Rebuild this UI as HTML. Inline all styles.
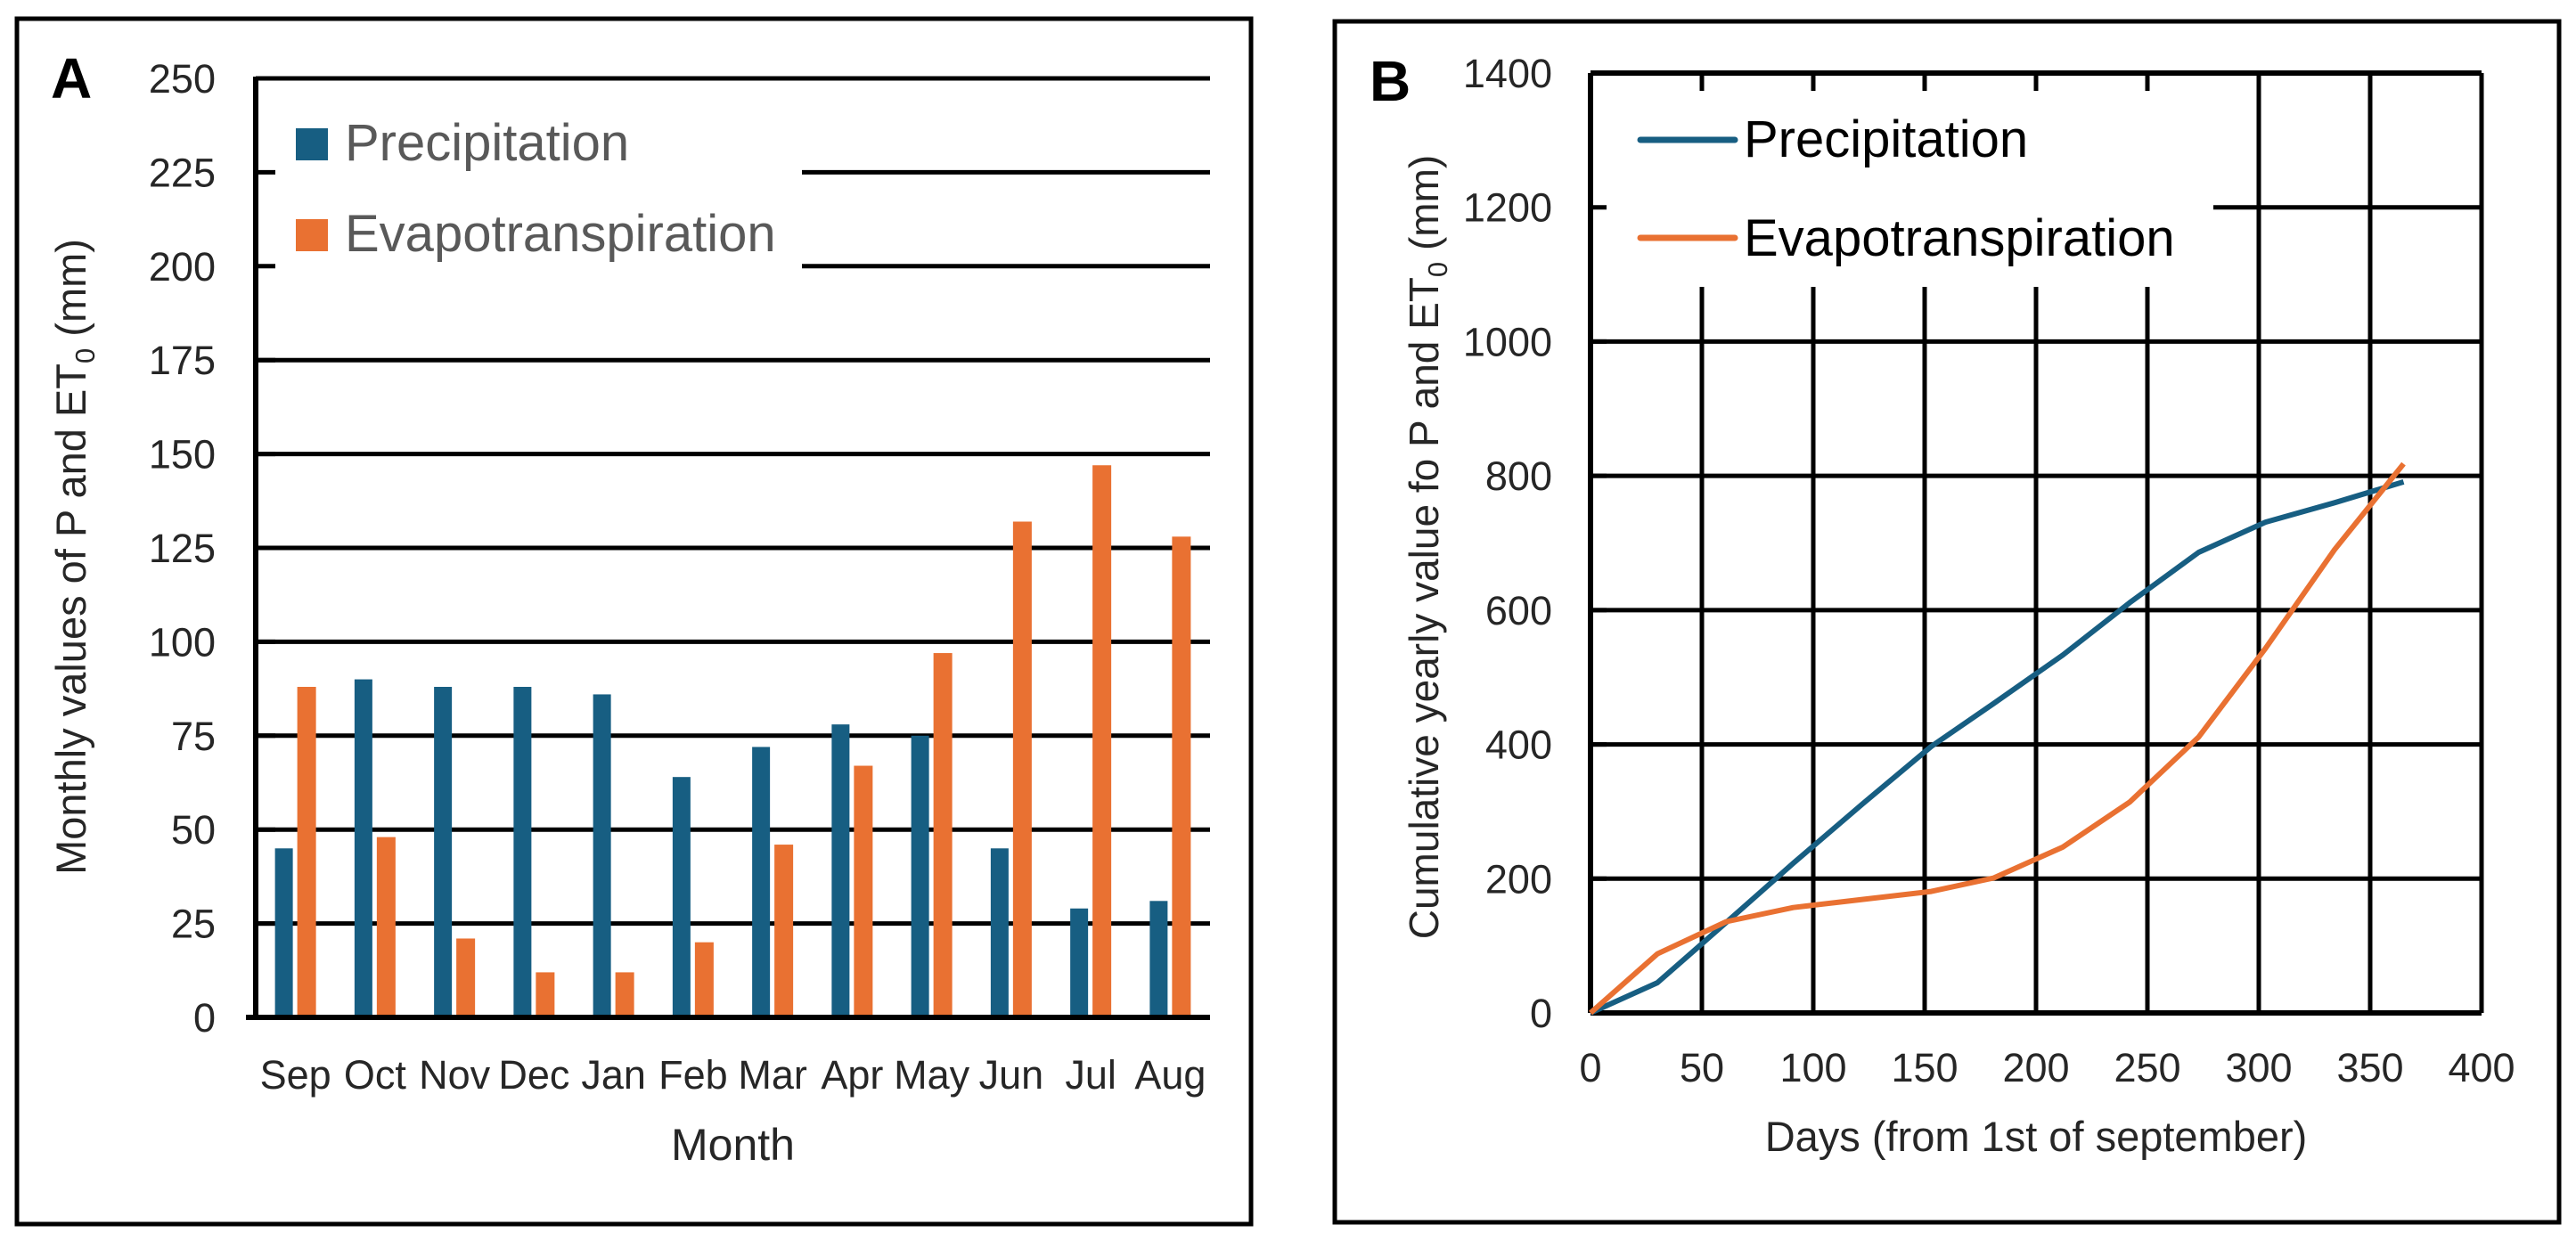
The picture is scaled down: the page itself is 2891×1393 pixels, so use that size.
<!DOCTYPE html>
<html><head><meta charset="utf-8"><style>
html,body{margin:0;padding:0;background:#fff;}
svg{display:block;font-family:"Liberation Sans",sans-serif;}
</style></head><body>
<svg id="root" width="2891" height="1393" viewBox="0 0 2891 1393" xmlns="http://www.w3.org/2000/svg">
<rect x="19" y="21" width="1385" height="1353" fill="none" stroke="#000" stroke-width="5"/>
<rect x="1498" y="24" width="1374" height="1348" fill="none" stroke="#000" stroke-width="5"/>
<text x="57" y="110" font-size="64" font-weight="bold">A</text>
<text x="1537" y="113" font-size="64" font-weight="bold">B</text>
<g id="chartA"></g>
<g id="chartB"></g>
</svg>
<script>
const months = ["Sep","Oct","Nov","Dec","Jan","Feb","Mar","Apr","May","Jun","Jul","Aug"];
const precipMonthly = [45,90,88,88,86,64,72,78,75,45,29,31];
const etMonthly = [88,48,21,12,12,20,46,67,97,132,147,128];
const yTicksA = [0,25,50,75,100,125,150,175,200,225,250];

const days = [0,30,61,91,122,153,181,212,242,273,303,334,365];
const precipCum = [0,45,135,223,311,397,461,533,611,686,731,760,791];
const etCum = [0,88,136,157,169,181,201,247,314,411,543,690,818];
const yTicksB = [0,200,400,600,800,1000,1200,1400];
const xTicksB = [0,50,100,150,200,250,300,350,400];

const NS = "http://www.w3.org/2000/svg";
const BLUE = "#175E82", ORANGE = "#E97132";
function mk(parent, tag, attrs){const e=document.createElementNS(NS,tag);for(const k in attrs)e.setAttribute(k,attrs[k]);parent.appendChild(e);return e;}

// ---------- Panel A ----------
const gA = document.getElementById("chartA");
const aL=287, aR=1358, aT=88, aB=1142;
const yA = v => aB - (v/250)*(aB-aT);
const bandW = (aR-aL)/months.length;
const xA = i => aL + bandW*(i+0.5);
yTicksA.forEach(v=>{
  const y=yA(v);
  let x1 = aL;
  if (v===225 || v===200) x1 = 900;
  const l=mk(gA,"line",{x1:x1,x2:aR,y1:y,y2:y,stroke:"#000","stroke-width":5});
  
  
  const t=mk(gA,"line",{x1:aL,x2:aL+22,y1:y,y2:y,stroke:"#000","stroke-width":5});
  
  
  const tx=mk(gA,"text",{x:242,y:y+16,"font-size":45,"text-anchor":"end",fill:"#262626"});
  tx.textContent=v;
  
  
});
mk(gA,"line",{x1:aL,x2:aL,y1:aT-2,y2:aB,stroke:"#000","stroke-width":6});
months.forEach((m,i)=>{
  const c=xA(i);
  const b=mk(gA,"rect",{x:c-23,y:yA(precipMonthly[i]),width:20,height:aB-yA(precipMonthly[i]),fill:BLUE});
  
  
  const o=mk(gA,"rect",{x:c+2,y:yA(etMonthly[i]),width:21,height:aB-yA(etMonthly[i]),fill:ORANGE});
  
  
  const t=mk(gA,"text",{x:c,y:1222,"font-size":45,"text-anchor":"middle",fill:"#262626"});
  t.textContent=m;
  
  
});
const xaxA=mk(gA,"line",{x1:276,x2:aR,y1:aB,y2:aB,stroke:"#000","stroke-width":6});


let t=mk(gA,"text",{x:(aL+aR)/2,y:1302,"font-size":50,"text-anchor":"middle",fill:"#262626"});
t.textContent="Month";


t=mk(gA,"text",{x:0,y:0,"font-size":47,"text-anchor":"middle",fill:"#262626",transform:"translate(96,625) rotate(-90)"});
t.innerHTML='Monthly values of P and ET<tspan font-size="31" dy="10">0</tspan><tspan dy="-10"> (mm)</tspan>';


// legend A
let r=mk(gA,"rect",{x:332,y:144,width:36,height:36,fill:BLUE});


t=mk(gA,"text",{x:387,y:180,"font-size":58,fill:"#595959"});t.textContent="Precipitation";


r=mk(gA,"rect",{x:332,y:246,width:36,height:36,fill:ORANGE});


t=mk(gA,"text",{x:387,y:282,"font-size":58,fill:"#595959"});t.textContent="Evapotranspiration";



// ---------- Panel B ----------
const gB=document.getElementById("chartB");
const bL=1785,bR=2785,bT=82,bB=1137;
const xB=d=>bL+(d/400)*(bR-bL);
const yB=v=>bB-(v/1400)*(bB-bT);
yTicksB.forEach(v=>{
  const y=yB(v);
  let x1=bL;
  if(v===1200) x1=2484;
  const l=mk(gB,"line",{x1:x1,x2:bR,y1:y,y2:y,stroke:"#000","stroke-width":5});
  
  
  mk(gB,"line",{x1:bL,x2:bL+18,y1:y,y2:y,stroke:"#000","stroke-width":5});
  const tx=mk(gB,"text",{x:1742,y:y+16,"font-size":45,"text-anchor":"end",fill:"#262626"});
  tx.textContent=v;
  
  
});
xTicksB.forEach(d=>{
  const x=xB(d);
  let y1=bT;
  if(d>0 && d<=250) y1=322;
  const l=mk(gB,"line",{x1:x,x2:x,y1:y1,y2:bB,stroke:"#000","stroke-width":5});
  
  
  mk(gB,"line",{x1:x,x2:x,y1:bT,y2:bT+20,stroke:"#000","stroke-width":5});
  const tx=mk(gB,"text",{x:x,y:1214,"font-size":45,"text-anchor":"middle",fill:"#262626"});
  tx.textContent=d;
  
  
});
mk(gB,"line",{x1:bL,x2:bR,y1:bT,y2:bT,stroke:"#000","stroke-width":6});
mk(gB,"line",{x1:bL,x2:bL,y1:bT,y2:bB,stroke:"#000","stroke-width":6});
mk(gB,"line",{x1:bL,x2:bR,y1:bB,y2:bB,stroke:"#000","stroke-width":6});
function series(vals,color,name){
  const pts=days.map((d,i)=>xB(d).toFixed(1)+","+yB(vals[i]).toFixed(1)).join(" ");
  const p=mk(gB,"polyline",{points:pts,fill:"none",stroke:color,"stroke-width":6,"stroke-linejoin":"round"});
  
  
}
series(precipCum,BLUE,'line-precipitation');
series(etCum,ORANGE,'line-evapotranspiration');
t=mk(gB,"text",{x:(bL+bR)/2,y:1292,"font-size":47,"text-anchor":"middle",fill:"#262626"});
t.textContent="Days (from 1st of september)";


t=mk(gB,"text",{x:0,y:0,"font-size":46,"text-anchor":"middle",fill:"#262626",transform:"translate(1614,614) rotate(-90)"});
t.innerHTML='Cumulative yearly value fo P and ET<tspan font-size="31" dy="10">0</tspan><tspan dy="-10"> (mm)</tspan>';


let l=mk(gB,"line",{x1:1841,x2:1947,y1:157,y2:157,stroke:BLUE,"stroke-width":7,"stroke-linecap":"round"});


t=mk(gB,"text",{x:1957,y:176,"font-size":58,fill:"#000"});t.textContent="Precipitation";


l=mk(gB,"line",{x1:1841,x2:1947,y1:267,y2:267,stroke:ORANGE,"stroke-width":7,"stroke-linecap":"round"});


t=mk(gB,"text",{x:1957,y:287,"font-size":58,fill:"#000"});t.textContent="Evapotranspiration";


</script>
</body></html>
